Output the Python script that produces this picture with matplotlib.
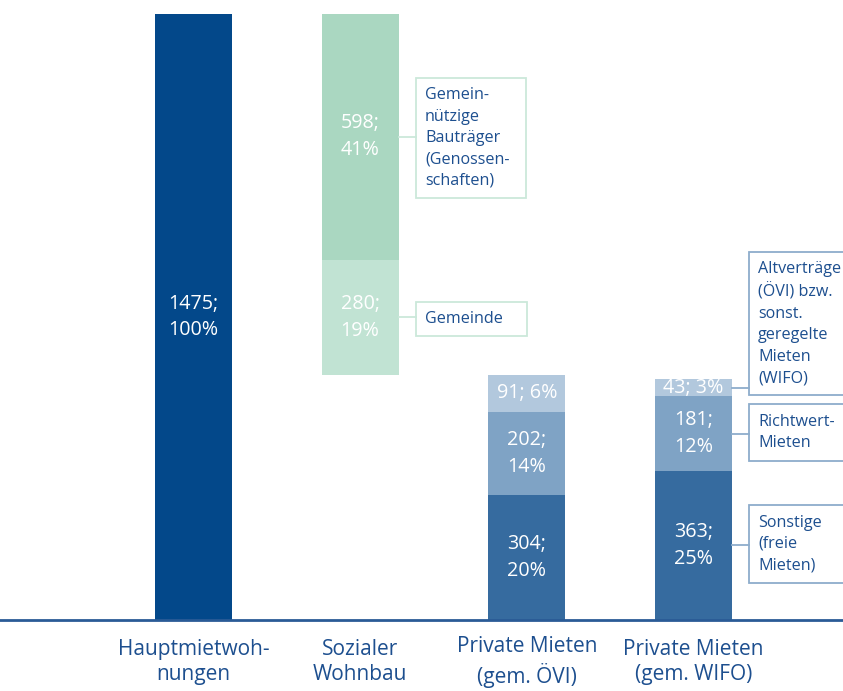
import numpy as np
import matplotlib.pyplot as plt
from matplotlib.patches import Rectangle

# ----------------------------
# Data
# ----------------------------

categories = ["Hauptmietwoh-\nnungen", "Sozialer\nWohnbau",
              "Private Mieten\n(gem. ÖVI)", "Private Mieten\n(gem. WIFO)"]

total = 1475
total_pct = "100%"

sozial_values = [280, 598]
sozial_pct = ["19%", "41%"]
sozial_names = ["Gemeinde", "Gemein-\nnützige\nBauträger\n(Genossen-\nschaften)"]

oevi_values = [304, 202, 91]
oevi_pct = ["20%", "14%", "6%"]

wifo_values = [363, 181, 43]
wifo_pct = ["25%", "12%", "3%"]
wifo_names = ["Sonstige\n(freie\nMieten)", "Richtwert-\nMieten",
              "Altverträge\n(ÖVI) bzw.\nsonst.\ngeregelte\nMieten\n(WIFO)"]

# ----------------------------
# Style
# ----------------------------

navy = "#03488a"
text_blue = "#1d4f8f"
green_colors = ["#c1e3d3", "#aad7c1"]
blue_colors = ["#366b9f", "#7fa3c5", "#b2c8dd"]
green_edge = "#cbe8da"
blue_edge = "#8eadcc"

plt.rcParams["font.family"] = ["Open Sans", "DejaVu Sans"]

W, H = 843, 691
fig = plt.figure(figsize=(W / 100, H / 100), dpi=100)
ax = fig.add_axes([0, 0, 1, 1])

step = 166.67
x0 = 193.5
base_px = 71
scale = 606 / total
ax.set_xlim(-x0 / step, (W - x0) / step)
ax.set_ylim(-base_px / scale, (H - base_px) / scale)
ax.axis("off")

width = 77 / step
x = np.arange(len(categories))

label_kw = dict(ha="center", va="center", color="white", fontsize=14.2, linespacing=1.45)

# bar 1
ax.bar(x[0], total, width=width, color=navy)
ax.text(x[0], total / 2, f"{total};\n{total_pct}", **label_kw)

# bar 2, floating on top of the rental bars
sozial_bottom = total - sum(sozial_values)
bottom = sozial_bottom
sozial_mids = []
for v, p, c in zip(sozial_values, sozial_pct, green_colors):
    ax.bar(x[1], v, bottom=bottom, width=width, color=c)
    ax.text(x[1], bottom + v / 2, f"{v};\n{p}", **label_kw)
    sozial_mids.append(bottom + v / 2)
    bottom += v

# bar 3 and 4
wifo_mids = []
for xi, vals, pcts in [(x[2], oevi_values, oevi_pct), (x[3], wifo_values, wifo_pct)]:
    bottom = 0
    for v, p, c in zip(vals, pcts, blue_colors):
        ax.bar(xi, v, bottom=bottom, width=width, color=c)
        sep = "; " if v < 100 else ";\n"
        ax.text(xi, bottom + v / 2, f"{v}{sep}{p}", **label_kw)
        if xi == x[3]:
            wifo_mids.append(bottom + v / 2)
        bottom += v

# baseline
ax.axhline(0, color="#2a5b96", lw=2)

# category labels
for xi, cat in zip(x, categories):
    ax.text(xi, -42 / scale, cat, ha="center", va="center", color=text_blue,
            fontsize=15, linespacing=1.3)

# ----------------------------
# Annotation boxes (pixel layout, top-left origin)
# ----------------------------

def to_fig(px, py):
    return px / W, 1 - py / H

def box(left, top, right, bottom_, edge, text):
    fx, fy = to_fig(left, bottom_)
    fw = (right - left) / W
    fh = (bottom_ - top) / H
    fig.patches.append(Rectangle((fx, fy), fw, fh, transform=fig.transFigure,
                                 facecolor="white", edgecolor=edge, lw=1.3))
    tx, ty = to_fig(left + 9, (top + bottom_) / 2)
    fig.text(tx, ty, text, ha="left", va="center", color=text_blue,
             fontsize=11.6, linespacing=1.45)

def connector(xbar, ydata, left, edge):
    bx, by = ax.transData.transform((xbar + width / 2, ydata))
    fig.add_artist(plt.Line2D([bx / W, left / W], [by / H, by / H],
                              transform=fig.transFigure, color=edge, lw=1.3))

green_boxes = [(416, 302, 527, 336), (416, 78, 526, 198)]
for (l, t, r, b), name, mid in zip(green_boxes, sozial_names, sozial_mids):
    connector(x[1], mid, l, green_edge)
    box(l, t, r, b, green_edge, name)

blue_boxes = [(749, 505, 850, 583), (749, 404, 850, 461), (749, 252, 850, 395)]
for (l, t, r, b), name, mid in zip(blue_boxes, wifo_names, wifo_mids):
    connector(x[3], mid, l, blue_edge)
    box(l, t, r, b, blue_edge, name)

fig.savefig("out.png", dpi=100)
